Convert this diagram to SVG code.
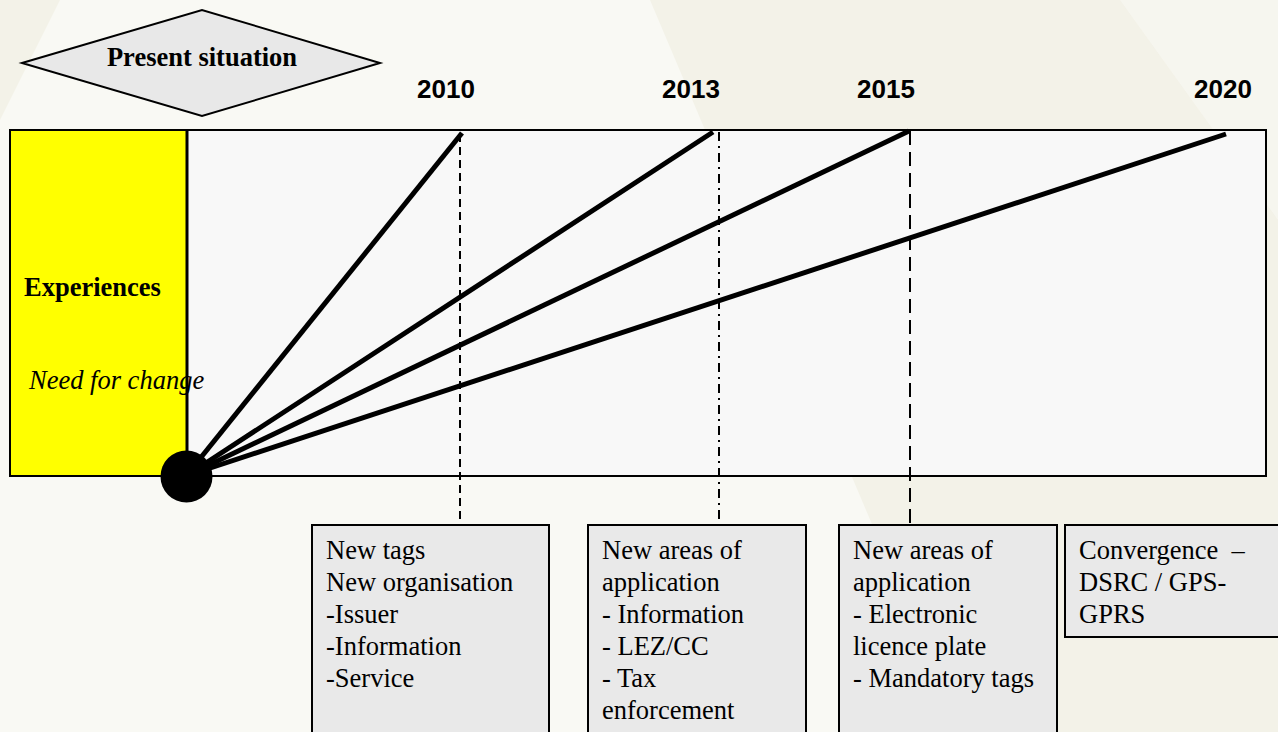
<svg xmlns="http://www.w3.org/2000/svg" width="1278" height="732" viewBox="0 0 1278 732">
<style>
.bg{fill:#f3f2e8}
.band{fill:#f9f9f4}
.box{fill:#e9e9e9;stroke:#000;stroke-width:2}
.t{font-family:"Liberation Serif","Times New Roman",serif;font-size:26.5px;fill:#000}
.yr{font-family:"Liberation Sans",Arial,sans-serif;font-size:26px;font-weight:bold;fill:#000}
.ray{stroke:#000;stroke-width:5;stroke-linecap:butt}
.drop{stroke:#000;stroke-width:2;fill:none}
</style>
<rect class="bg" x="0" y="0" width="1278" height="732"/>
<polygon class="band" points="60,0 650,0 960,732 0,732 0,120"/>
<polygon class="band" points="1120,0 1278,0 1278,220" opacity="0.6"/>
<g id="main-area">
<rect x="10" y="130" width="1256" height="346" fill="#f8f8f8" stroke="#000" stroke-width="2"/>
</g>
<g id="experiences">
<rect x="10" y="130" width="177" height="346" fill="#ffff00" stroke="#000" stroke-width="2"/>
<line x1="187" y1="130" x2="187" y2="476" stroke="#000" stroke-width="3"/>
<text class="t" x="24" y="296" font-weight="bold" font-size="26.5">Experiences</text>
<text class="t" x="29" y="389" font-style="italic" font-size="25.5">Need for change</text>
</g>
<g id="present-situation">
<polygon points="22,63 202,10 380,63 202,116" fill="#e8e8e8" stroke="#000" stroke-width="2"/>
<text class="t" x="202" y="66" font-weight="bold" text-anchor="middle">Present situation</text>
</g>
<g id="years">
<text class="yr" x="446" y="98" text-anchor="middle">2010</text>
<text class="yr" x="691" y="98" text-anchor="middle">2013</text>
<text class="yr" x="886" y="98" text-anchor="middle">2015</text>
<text class="yr" x="1223" y="98" text-anchor="middle">2020</text>
</g>
<g id="connectors">
<line class="drop" x1="460" y1="134" x2="460" y2="525" stroke-dasharray="8,5"/>
<line class="drop" x1="719" y1="132" x2="719" y2="525" stroke-dasharray="9,5,2,5"/>
<line class="drop" x1="910" y1="131" x2="910" y2="525" stroke-dasharray="14,7"/>
<line class="ray" x1="186" y1="476" x2="462" y2="133"/>
<line class="ray" x1="186" y1="476" x2="713" y2="132"/>
<line class="ray" x1="186" y1="476" x2="909" y2="131"/>
<line class="ray" x1="186" y1="476" x2="1226" y2="134"/>
</g>
<g id="origin">
<circle cx="186.5" cy="476.5" r="26" fill="#000"/>
</g>
<g id="box-2010">
<rect class="box" x="312" y="525" width="237" height="220"/>
<text class="t" x="326" y="559">New tags</text>
<text class="t" x="326" y="591">New organisation</text>
<text class="t" x="326" y="623">-Issuer</text>
<text class="t" x="326" y="655">-Information</text>
<text class="t" x="326" y="687">-Service</text>
</g>
<g id="box-2013">
<rect class="box" x="588" y="525" width="218" height="220"/>
<text class="t" x="602" y="559">New areas of</text>
<text class="t" x="602" y="591">application</text>
<text class="t" x="602" y="623">- Information</text>
<text class="t" x="602" y="655">- LEZ/CC</text>
<text class="t" x="602" y="687">- Tax</text>
<text class="t" x="602" y="719">enforcement</text>
</g>
<g id="box-2015">
<rect class="box" x="839" y="525" width="218" height="220"/>
<text class="t" x="853" y="559">New areas of</text>
<text class="t" x="853" y="591">application</text>
<text class="t" x="853" y="623">- Electronic</text>
<text class="t" x="853" y="655">licence plate</text>
<text class="t" x="853" y="687">- Mandatory tags</text>
</g>
<g id="box-2020">
<rect class="box" x="1065" y="525" width="220" height="112"/>
<text class="t" x="1079" y="559">Convergence&#160; –</text>
<text class="t" x="1079" y="591">DSRC / GPS-</text>
<text class="t" x="1079" y="623">GPRS</text>
</g>
</svg>
